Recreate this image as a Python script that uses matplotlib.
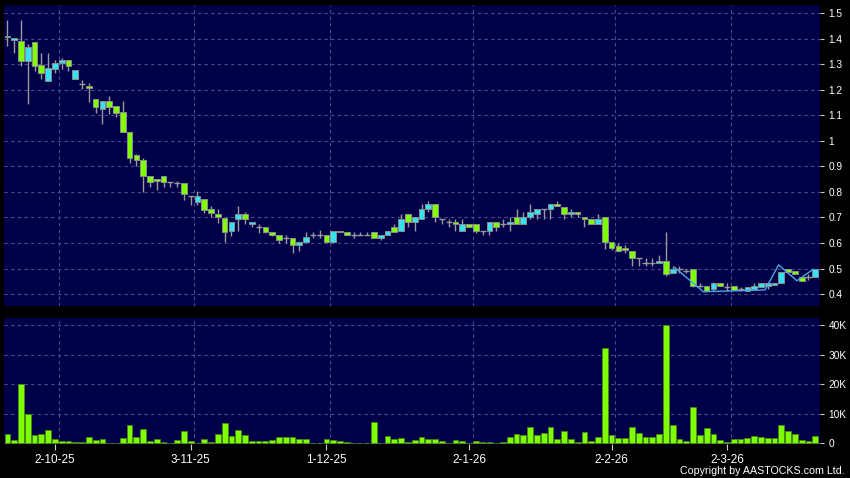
import matplotlib
matplotlib.use("Agg")
import matplotlib.pyplot as plt
import numpy as np

plt.rcParams['font.family'] = ['Liberation Sans', 'DejaVu Sans']

# daily OHLC, one entry per trading day (index 0..119)
opens = [
    1.412, 1.394, 1.393, 1.314, 1.386, 1.296, 1.234, 1.284, 1.304, 1.316,
    1.244, 1.223, 1.214, 1.163, 1.124, 1.155, 1.137, 1.112, 1.034, 0.945,
    0.924, 0.861, 0.852, 0.861, 0.840, 0.834, 0.834, 0.783, 0.762, 0.771,
    0.732, 0.712, 0.699, 0.648, 0.693, 0.712, 0.673, 0.661, 0.661, 0.642,
    0.630, 0.621, 0.621, 0.591, 0.603, 0.630, 0.630, 0.630, 0.603, 0.648,
    0.642, 0.630, 0.630, 0.630, 0.642, 0.621, 0.630, 0.661, 0.648, 0.712,
    0.681, 0.693, 0.732, 0.752, 0.693, 0.681, 0.681, 0.648, 0.673, 0.673,
    0.648, 0.648, 0.681, 0.673, 0.673, 0.700, 0.673, 0.700, 0.712, 0.732,
    0.732, 0.752, 0.742, 0.712, 0.720, 0.700, 0.693, 0.673, 0.700, 0.603,
    0.590, 0.579, 0.570, 0.540, 0.520, 0.520, 0.520, 0.531, 0.481, 0.500,
    0.491, 0.497, 0.433, 0.433, 0.418, 0.442, 0.429, 0.431, 0.418, 0.411,
    0.418, 0.426, 0.433, 0.435, 0.442, 0.497, 0.490, 0.468, 0.465, 0.465,
]
closes = [
    1.406, 1.404, 1.314, 1.367, 1.295, 1.265, 1.286, 1.304, 1.316, 1.295,
    1.277, 1.223, 1.206, 1.134, 1.155, 1.134, 1.110, 1.034, 0.933, 0.924,
    0.861, 0.840, 0.843, 0.840, 0.840, 0.834, 0.791, 0.783, 0.783, 0.730,
    0.719, 0.700, 0.642, 0.681, 0.712, 0.693, 0.681, 0.661, 0.642, 0.630,
    0.611, 0.621, 0.591, 0.603, 0.622, 0.630, 0.630, 0.603, 0.648, 0.642,
    0.630, 0.630, 0.630, 0.630, 0.621, 0.630, 0.648, 0.642, 0.693, 0.681,
    0.700, 0.732, 0.752, 0.700, 0.693, 0.681, 0.673, 0.673, 0.661, 0.648,
    0.648, 0.681, 0.661, 0.673, 0.681, 0.673, 0.700, 0.720, 0.732, 0.732,
    0.752, 0.745, 0.712, 0.720, 0.712, 0.693, 0.673, 0.693, 0.602, 0.579,
    0.570, 0.573, 0.540, 0.540, 0.520, 0.520, 0.531, 0.478, 0.500, 0.500,
    0.491, 0.433, 0.433, 0.411, 0.442, 0.431, 0.429, 0.416, 0.418, 0.426,
    0.431, 0.444, 0.442, 0.444, 0.487, 0.487, 0.478, 0.451, 0.465, 0.497,
]
highs = [
    1.476, 1.404, 1.476, 1.382, 1.386, 1.343, 1.343, 1.316, 1.325, 1.316,
    1.277, 1.239, 1.226, 1.163, 1.155, 1.176, 1.137, 1.156, 1.034, 0.950,
    0.933, 0.861, 0.852, 0.861, 0.840, 0.844, 0.834, 0.783, 0.804, 0.771,
    0.745, 0.733, 0.699, 0.681, 0.745, 0.720, 0.681, 0.673, 0.661, 0.642,
    0.630, 0.630, 0.621, 0.603, 0.642, 0.642, 0.650, 0.630, 0.648, 0.648,
    0.642, 0.642, 0.642, 0.642, 0.642, 0.630, 0.648, 0.673, 0.712, 0.712,
    0.700, 0.752, 0.764, 0.752, 0.693, 0.693, 0.693, 0.693, 0.673, 0.673,
    0.648, 0.681, 0.681, 0.693, 0.700, 0.732, 0.720, 0.752, 0.732, 0.732,
    0.752, 0.764, 0.742, 0.732, 0.720, 0.700, 0.693, 0.712, 0.700, 0.603,
    0.599, 0.592, 0.570, 0.540, 0.540, 0.540, 0.553, 0.642, 0.511, 0.511,
    0.500, 0.497, 0.442, 0.433, 0.448, 0.442, 0.442, 0.431, 0.429, 0.426,
    0.442, 0.444, 0.448, 0.444, 0.487, 0.500, 0.490, 0.468, 0.478, 0.497,
]
lows = [
    1.373, 1.343, 1.295, 1.143, 1.275, 1.244, 1.234, 1.265, 1.284, 1.275,
    1.244, 1.203, 1.154, 1.110, 1.065, 1.104, 1.092, 1.034, 0.912, 0.903,
    0.801, 0.821, 0.809, 0.821, 0.821, 0.821, 0.770, 0.750, 0.750, 0.719,
    0.700, 0.680, 0.603, 0.629, 0.648, 0.673, 0.661, 0.640, 0.638, 0.627,
    0.601, 0.601, 0.560, 0.570, 0.603, 0.621, 0.621, 0.603, 0.603, 0.642,
    0.630, 0.621, 0.630, 0.630, 0.621, 0.610, 0.630, 0.642, 0.648, 0.661,
    0.648, 0.693, 0.720, 0.681, 0.673, 0.661, 0.648, 0.648, 0.661, 0.640,
    0.630, 0.630, 0.648, 0.661, 0.648, 0.673, 0.673, 0.693, 0.693, 0.693,
    0.693, 0.745, 0.693, 0.700, 0.700, 0.661, 0.673, 0.673, 0.576, 0.573,
    0.570, 0.560, 0.511, 0.511, 0.511, 0.511, 0.520, 0.471, 0.481, 0.481,
    0.481, 0.426, 0.426, 0.411, 0.413, 0.431, 0.413, 0.416, 0.411, 0.411,
    0.418, 0.426, 0.418, 0.435, 0.442, 0.487, 0.478, 0.451, 0.455, 0.465,
]
# volume in thousands of shares
volumes = [
    3.2, 1.1, 20.0, 10.0, 2.9, 3.2, 4.6, 1.35, 0.8, 0.7,
    0.35, 0.55, 2.1, 1.1, 1.5, 0.3, 0.3, 1.9, 6.1, 2.0,
    4.8, 0.8, 1.5, 0.55, 0.2, 1.0, 4.05, 0.9, 0.3, 1.5,
    0.45, 3.2, 6.8, 2.5, 4.4, 3.0, 0.8, 0.8, 0.8, 1.1,
    2.25, 2.25, 2.25, 1.6, 1.5, 0.1, 0.3, 1.5, 1.1, 0.7,
    0.45, 0.1, 0.1, 0.05, 7.1, 0.0, 2.6, 1.6, 1.8, 0.45,
    1.25, 2.1, 1.35, 1.35, 0.9, 0.05, 1.1, 0.9, 0.1, 0.8,
    0.45, 0.45, 0.1, 0.55, 2.0, 3.2, 2.8, 5.5, 2.7, 3.4,
    5.5, 1.35, 4.2, 1.35, 0.45, 3.8, 0.9, 2.25, 32.3, 2.7,
    1.7, 1.7, 5.7, 3.4, 2.1, 2.1, 3.2, 39.9, 6.2, 1.5,
    0.9, 12.2, 2.8, 5.2, 3.2, 1.1, 0.45, 1.6, 1.6, 1.8,
    2.4, 2.1, 1.9, 1.8, 6.1, 4.1, 3.2, 1.1, 0.7, 2.4,
]

# light blue line drawn over the last few weeks
line_x = [98.3, 102.5, 111.6, 113.6, 116.3, 118.7]
line_y = [0.504, 0.409, 0.416, 0.514, 0.452, 0.497]

date_idx = [7, 27, 47, 68, 89, 106]
date_labels = ['2-10-25', '3-11-25', '1-12-25', '2-1-26', '2-2-26', '2-3-26']

price_ticks = [0.4, 0.5, 0.6, 0.7, 0.8, 0.9, 1.0, 1.1, 1.2, 1.3, 1.4, 1.5]
price_labels = ['0.4', '0.5', '0.6', '0.7', '0.8', '0.9', '1', '1.1', '1.2', '1.3', '1.4', '1.5']
vol_ticks = [0, 10, 20, 30, 40]
vol_labels = ['0', '10K', '20K', '30K', '40K']

bg = '#000048'
grid_col = '#4c4c88'
up_col = '#36e2f2'
down_col = '#80ff00'
wick_col = '#9a9a9a'

o = np.array(opens)
c = np.array(closes)
h = np.array(highs)
l = np.array(lows)
x = np.arange(len(o))

fig = plt.figure(figsize=(8.5, 4.78), dpi=100, facecolor='black')
ax1 = fig.add_axes([4 / 850, 1 - 306 / 478, 816 / 850, 301 / 478], facecolor=bg)
ax2 = fig.add_axes([4 / 850, 1 - 444 / 478, 816 / 850, 126 / 478], facecolor=bg)

# candles
ax1.vlines(x, l, h, color=wick_col, lw=1, zorder=2)
doji = o == c
body = ~doji
cols = np.where(c > o, up_col, down_col)
ax1.bar(x[body], np.abs(c - o)[body], bottom=np.minimum(o, c)[body], width=0.84,
        color=cols[body], edgecolor='#8c8c8c', linewidth=0.7, zorder=3)
ax1.hlines(o[doji], x[doji] - 0.45, x[doji] + 0.45, color=wick_col, lw=1, zorder=3)
ax1.plot(line_x, line_y, color='#4aa8e8', lw=1, zorder=4)

# volume
ax2.bar(x, volumes, width=0.85, color=down_col, edgecolor='#4a8a14', linewidth=0.5, zorder=3)

for ax in (ax1, ax2):
    ax.set_xlim(-0.5, 119.7)
    for xi in date_idx:
        ax.axvline(xi + 0.55, color=grid_col, lw=0.8, ls=(0, (3, 3)), zorder=1)
    ax.grid(axis='y', color=grid_col, lw=0.8, ls=(0, (3, 3)), zorder=1)
    ax.set_axisbelow(True)
    for s in ax.spines.values():
        s.set_visible(False)
    ax.yaxis.tick_right()
    ax.tick_params(axis='y', colors='#cccccc', labelcolor='white', length=3,
                   width=0.8, pad=3, labelsize=7.3)

ax1.set_ylim(0.353, 1.533)
ax1.set_yticks(price_ticks)
ax1.set_yticklabels(price_labels)
ax1.set_xticks([])

ax2.set_ylim(-0.2, 42.4)
ax2.set_yticks(vol_ticks)
ax2.set_yticklabels(vol_labels)
ax2.set_xticks(date_idx)
ax2.set_xticklabels(date_labels)
ax2.tick_params(axis='x', colors='#cccccc', labelcolor='white', length=4,
                width=0.8, pad=3, labelsize=8.5)

fig.text(845 / 850, 1 - 471 / 478, 'Copyright by AASTOCKS.com Ltd.', ha='right',
         va='center', color='white', fontsize=7.7)

fig.savefig('out.png', dpi=100, facecolor='black')
